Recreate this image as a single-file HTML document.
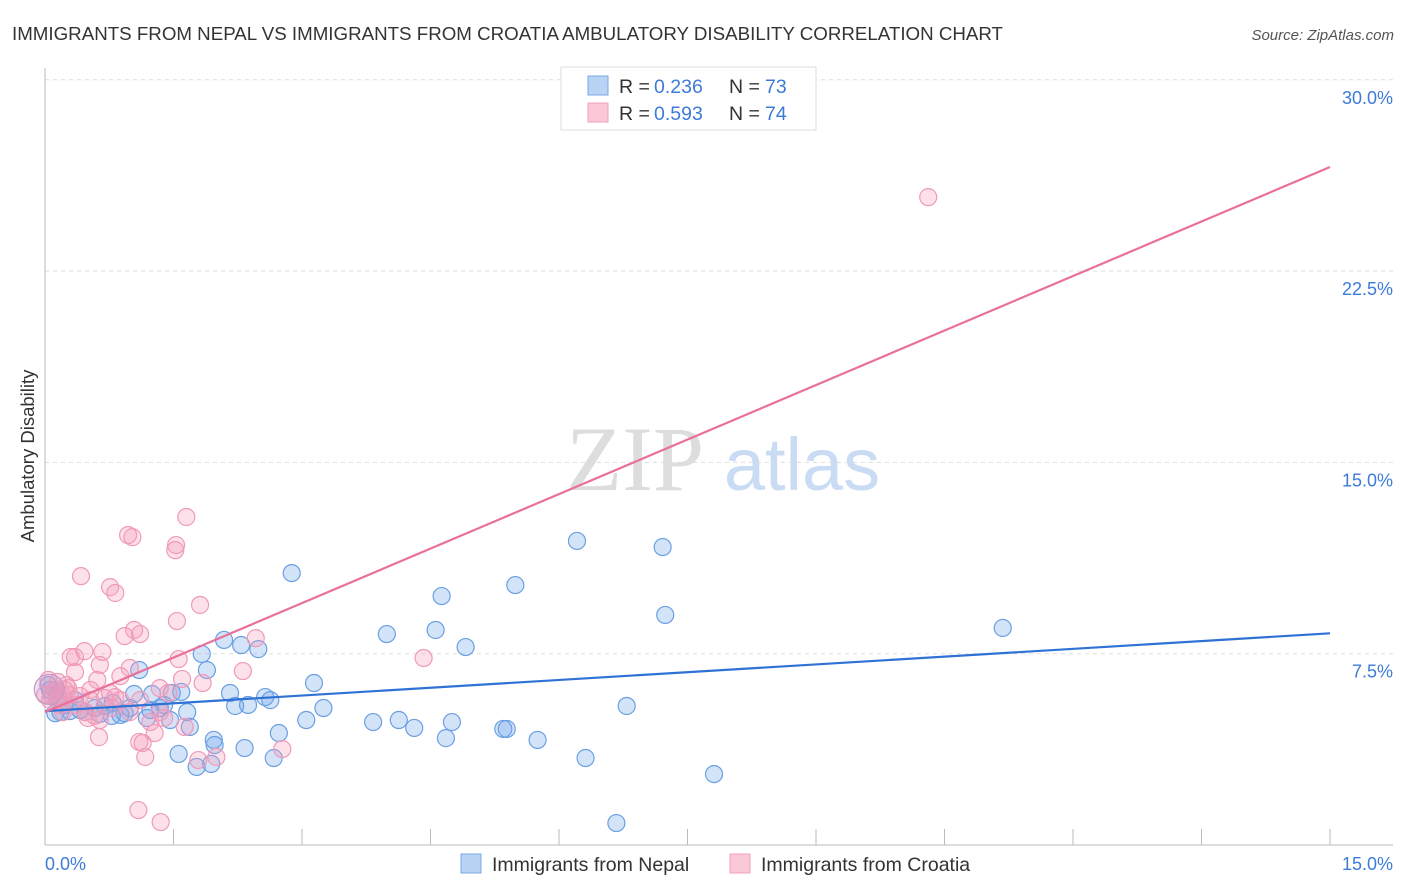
<!DOCTYPE html>
<html><head><meta charset="utf-8"><style>
body{margin:0;background:#fff;font-family:"Liberation Sans",sans-serif}
svg{display:block}
</style></head><body>
<svg id="chart" width="1406" height="892" viewBox="0 0 1406 892">
<text x="12" y="40" font-size="18" fill="#333" textLength="991" lengthAdjust="spacingAndGlyphs">IMMIGRANTS FROM NEPAL VS IMMIGRANTS FROM CROATIA AMBULATORY DISABILITY CORRELATION CHART</text>
<text x="1394" y="40" font-size="15" fill="#555" font-style="italic" text-anchor="end">Source: ZipAtlas.com</text>
<text transform="translate(34,456) rotate(-90)" font-size="18.5" fill="#333" text-anchor="middle">Ambulatory Disability</text>
<g>
<text x="635" y="490" font-size="92" font-family="Liberation Serif,serif" fill="#ddd" text-anchor="middle">ZIP</text>
<text x="802" y="490" font-size="74" fill="#c9dcf3" text-anchor="middle">atlas</text>
</g>
<g id="grid"></g>
<g id="axes"></g>
<g id="pts"></g>
<g id="lines"></g>
<g>
<rect x="561" y="67" width="255" height="63" fill="#fff" stroke="#ddd"/>
<rect x="588" y="76" width="20" height="19" fill="#b9d3f5" stroke="#7aa7e6"/>
<rect x="588" y="103" width="20" height="19" fill="#fbc8d8" stroke="#f0a0bc"/>
<text y="93" font-size="19.5" fill="#333"><tspan x="619">R =</tspan><tspan x="654" fill="#3d7bd9">0.236</tspan><tspan x="729">N =</tspan><tspan x="765" fill="#3d7bd9">73</tspan></text>
<text y="120" font-size="19.5" fill="#333"><tspan x="619">R =</tspan><tspan x="654" fill="#3d7bd9">0.593</tspan><tspan x="729">N =</tspan><tspan x="765" fill="#3d7bd9">74</tspan></text>
</g>
<g>
<rect x="461" y="854" width="20" height="19" fill="#b9d3f5" stroke="#7aa7e6"/>
<text x="492" y="871" font-size="19.5" fill="#333">Immigrants from Nepal</text>
<rect x="730" y="854" width="20" height="19" fill="#fbc8d8" stroke="#f0a0bc"/>
<text x="761" y="871" font-size="19.5" fill="#333">Immigrants from Croatia</text>
</g>
</svg>
<script>
const yTicks=[7.5,15,22.5,30];
const yTickLabels=["7.5%","15.0%","22.5%","30.0%"];
const xTickLabels=["0.0%","15.0%"];
const nepalX=[2.88,6.21,7.21,5.49,4.63,7.24,11.18,3.99,4.56,4.91,2.09,2.29,2.49,1.10,1.89,1.83,3.14,2.16,2.57,2.63,2.22,2.37,6.79,3.25,1.59,1.25,1.04,1.48,1.66,1.39,1.19,1.46,1.69,3.05,3.83,4.13,4.75,4.31,5.35,5.39,4.68,5.75,2.73,1.97,1.98,2.33,1.56,2.67,6.31,1.77,1.94,7.81,6.67,0.18,0.29,0.47,0.58,0.70,0.79,0.88,0.93,0.78,0.12,0.23,0.41,0.64,0.99,1.23,1.34,0.06,0.15,0.04,0.35];
const nepalY=[10.66,11.92,11.68,10.19,9.76,9.02,8.51,8.27,8.43,7.76,8.04,7.84,7.68,6.86,6.86,7.49,6.35,5.96,5.80,5.68,5.45,5.49,5.45,5.37,6.00,5.92,5.92,5.96,5.21,5.49,4.98,4.90,4.63,4.90,4.82,4.90,4.82,4.59,4.55,4.55,4.19,4.12,4.39,4.12,3.92,3.80,3.57,3.41,3.41,3.06,3.18,2.78,0.86,5.21,5.25,5.21,5.37,5.45,5.57,5.10,5.17,5.06,5.17,5.49,5.29,5.14,5.37,5.29,5.37,6.08,5.88,6.27,5.68];
const croatiaX=[10.31,1.65,0.97,1.02,1.53,1.52,0.42,0.76,0.82,1.81,1.54,1.04,1.11,0.93,2.46,0.46,0.30,0.35,0.67,1.56,0.64,0.99,2.31,4.42,0.35,0.88,0.61,1.60,0.53,1.34,1.84,1.44,0.76,0.82,0.20,0.12,0.06,0.18,0.27,0.53,0.70,1.11,1.34,1.39,1.23,1.63,1.28,2.77,1.10,1.14,0.63,1.17,1.79,2.00,1.09,1.35,0.35,0.47,0.58,0.50,0.04,0.08,0.15,0.23,0.00,0.29,0.41,0.88,0.99,0.64,0.78,0.25,0.14,0.21];
const croatiaY=[25.40,12.86,12.15,12.07,11.76,11.56,10.54,10.11,9.88,9.41,8.78,8.43,8.27,8.19,8.11,7.60,7.37,7.37,7.57,7.29,7.06,6.94,6.82,7.33,6.78,6.62,6.47,6.51,6.08,6.15,6.35,5.96,5.96,5.80,5.88,6.08,5.68,5.49,6.15,5.68,5.76,5.68,5.21,4.98,4.82,4.63,4.39,3.76,4.04,4.00,4.23,3.45,3.33,3.45,1.37,0.90,5.49,5.21,5.06,4.98,6.47,5.88,6.39,6.08,5.88,5.88,5.84,5.68,5.21,4.90,5.37,6.27,5.68,5.21];
const nepalTrend=[5.25,8.30];
const croatiaTrend=[5.21,26.58];
const trendX=[0,15];

const X0=45,X1=1330,Y0=845,YPER=191.3/7.5;
function sx(v){return X0+(X1-X0)*v/15;}
function sy(v){return Y0-v*YPER;}
const NS="http://www.w3.org/2000/svg";
function mk(tag,attrs,parent){const e=document.createElementNS(NS,tag);for(const k in attrs)e.setAttribute(k,attrs[k]);parent.appendChild(e);return e;}
const grid=document.getElementById('grid'),axes=document.getElementById('axes'),pts=document.getElementById('pts'),lines=document.getElementById('lines');
yTicks.forEach((t,i)=>{
  const g=mk('line',{x1:45,x2:1393,y1:sy(t),y2:sy(t),stroke:'#ddd','stroke-dasharray':'4,4'},grid);
  
  
  const tx=mk('text',{x:1393,y:sy(t)+24,'font-size':18,fill:'#3d7bd9','text-anchor':'end'},grid);
  tx.textContent=yTickLabels[i];
  
  
});
const la=mk('line',{x1:45,x2:45,y1:68,y2:845,stroke:'#bbb'},axes);


const ba=mk('line',{x1:45,x2:1393,y1:845,y2:845,stroke:'#bbb'},axes);


for(let i=0;i<=10;i++){
  const v=i*1.5;
  const t=mk('line',{x1:sx(v),x2:sx(v),y1:829,y2:845,stroke:'#bbb'},axes);
  
  
}
const xl0=mk('text',{x:45,y:870,'font-size':18,fill:'#3d7bd9'},axes);xl0.textContent=xTickLabels[0];


const xl1=mk('text',{x:1393,y:870,'font-size':18,fill:'#3d7bd9','text-anchor':'end'},axes);xl1.textContent=xTickLabels[1];


nepalX.forEach((x,i)=>{
  const c=mk('circle',{cx:sx(x),cy:sy(nepalY[i]),r:8.5,fill:'rgba(110,165,235,0.3)',stroke:'#6b9fe3','stroke-width':1.2},pts);
  
  
});
croatiaX.forEach((x,i)=>{
  const c=mk('circle',{cx:sx(x),cy:sy(croatiaY[i]),r:8.5,fill:'rgba(245,155,185,0.3)',stroke:'#f09ab8','stroke-width':1.2},pts);
  
  
});
const big=mk('circle',{cx:sx(0.05),cy:sy(6.1),r:15,fill:'rgba(200,150,200,0.3)',stroke:'#c89ac8','stroke-width':1.2},pts);


const l1=mk('line',{x1:sx(trendX[0]),y1:sy(nepalTrend[0]),x2:sx(trendX[1]),y2:sy(nepalTrend[1]),stroke:'#2f72d6','stroke-width':2.2},lines);


const l2=mk('line',{x1:sx(trendX[0]),y1:sy(croatiaTrend[0]),x2:sx(trendX[1]),y2:sy(croatiaTrend[1]),stroke:'#e8709a','stroke-width':2.2},lines);


</script>
</body></html>
